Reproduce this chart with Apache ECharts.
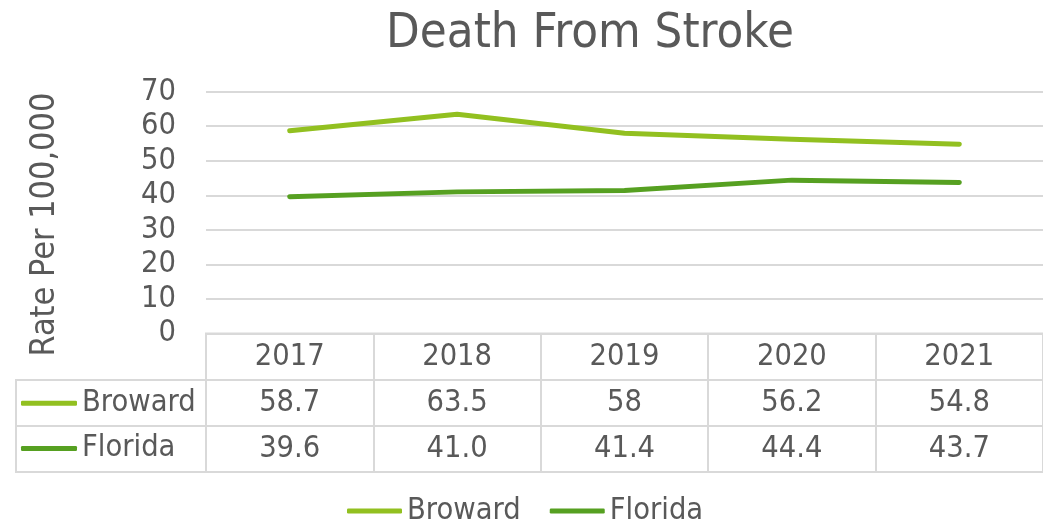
<!DOCTYPE html>
<html>
<head>
<meta charset="utf-8">
<script src="https://cdn.jsdelivr.net/npm/echarts@6/dist/echarts.min.js"></script>
<style>html,body{margin:0;padding:0;background:#fff}#c{width:1043px;height:524px}</style>
</head>
<body>
<div id="c"></div>
<script>
var years = ['2017', '2018', '2019', '2020', '2021'];
var broward = [58.7, 63.5, 58, 56.2, 54.8];
var florida = [39.6, 41.0, 41.4, 44.4, 43.7];
var seriesNames = ['Broward', 'Florida'];
var yMin = 0, yMax = 70, yStep = 10;

var TEXT = '#595959', GRID = '#d9d9d9';
var C_BROWARD = '#92c020', C_FLORIDA = '#56a021';

var ctx = document.createElement('canvas').getContext('2d');
function width(str, size, fam) { ctx.font = size + 'px ' + fam; return ctx.measureText(str).width; }
function hasFont(f) {
  var s = 'Rate Per 100,000 mmWWiil';
  return width(s, 40, 'monospace') !== width(s, 40, '"' + f + '", monospace');
}
var FAM = hasFont('DejaVu Sans Condensed') ? 'DejaVu Sans Condensed' : 'DejaVu Sans';
function fit(str, target) { return 100 * target / width(str, 100, '"' + FAM + '"'); }
var titleSize = fit('Death From Stroke', 408);
var body = (fit('Broward', 116) + fit('58.7', 60)) / 2;
var nameSize = fit('Rate Per 100,000', 264);
var LH = Math.round(body * 1.2);

var plotTop = 91.7, plotBottom = 333.5, headH = 46.5, rowH = 46;
var rowTop = plotBottom + headH;

var chart = echarts.init(document.getElementById('c'), null, { renderer: 'canvas' });
var titleW = width('Death From Stroke', titleSize, '"' + FAM + '"');

function cellLabel(fmt) {
  return { show: true, position: 'inside', color: TEXT, opacity: 1, fontFamily: FAM, fontSize: body, formatter: fmt };
}

var option = {
  animation: false,
  textStyle: { fontFamily: FAM },
  title: {
    text: 'Death From Stroke', left: 590 - titleW / 2, top: 56 - titleSize * 0.95, padding: 0,
    textStyle: { color: TEXT, fontSize: titleSize, fontWeight: 'normal', fontFamily: FAM }
  },
  legend: [
    { data: ['Broward'], left: 21, top: 403.3 - LH / 2, padding: 0, icon: 'roundRect', itemWidth: 56, itemHeight: 5,
      textStyle: { color: TEXT, fontSize: body, lineHeight: LH, fontFamily: FAM } },
    { data: ['Florida'], left: 21, top: 448.5 - LH / 2, padding: 0, icon: 'roundRect', itemWidth: 56, itemHeight: 5,
      textStyle: { color: TEXT, fontSize: body, lineHeight: LH, fontFamily: FAM } },
    { data: seriesNames, left: 347, top: 511 - LH / 2, padding: 0, itemGap: 29, icon: 'roundRect', itemWidth: 55, itemHeight: 5,
      textStyle: { color: TEXT, fontSize: body, lineHeight: LH, fontFamily: FAM } }
  ],
  grid: [
    { left: 206, right: -5, top: plotTop, height: plotBottom - plotTop },
    { left: 206, right: -5, top: plotBottom, height: headH, show: true, borderColor: GRID, borderWidth: 2 },
    { left: 206, right: -5, top: rowTop, height: rowH * 2, show: true, borderColor: GRID, borderWidth: 2 },
    { left: 16, width: 190, top: rowTop, height: rowH * 2, show: true, borderColor: GRID, borderWidth: 2 }
  ],
  xAxis: [
    { gridIndex: 0, type: 'category', data: years, boundaryGap: true, axisLine: { show: false }, axisTick: { show: false }, axisLabel: { show: false } },
    { gridIndex: 1, type: 'category', data: years, axisLine: { show: false }, axisTick: { show: false }, axisLabel: { show: false },
      splitLine: { show: true, interval: 0, lineStyle: { color: GRID, width: 2 } } },
    { gridIndex: 2, type: 'category', data: years, axisLine: { show: false }, axisTick: { show: false }, axisLabel: { show: false },
      splitLine: { show: true, interval: 0, lineStyle: { color: GRID, width: 2 } } },
    { gridIndex: 3, type: 'value', show: false, min: 0, max: 1 }
  ],
  yAxis: [
    { gridIndex: 0, type: 'value', min: yMin, max: yMax, interval: yStep,
      name: 'Rate Per 100,000', nameLocation: 'middle', nameGap: 144,
      nameTextStyle: { color: TEXT, fontSize: nameSize, fontFamily: FAM, padding: [0, 24, 0, 0] },
      axisLine: { show: false }, axisTick: { show: false },
      axisLabel: { color: TEXT, fontSize: body, fontFamily: FAM, margin: 30 },
      splitLine: { lineStyle: { color: GRID, width: 2 } } },
    { gridIndex: 1, type: 'value', min: 0, max: 1, show: false },
    { gridIndex: 2, type: 'category', data: seriesNames, inverse: true, axisLine: { show: false }, axisTick: { show: false }, axisLabel: { show: false },
      splitLine: { show: true, interval: 0, lineStyle: { color: GRID, width: 2 } } },
    { gridIndex: 3, type: 'category', data: seriesNames, inverse: true, axisLine: { show: false }, axisTick: { show: false }, axisLabel: { show: false },
      splitLine: { show: true, interval: 0, lineStyle: { color: GRID, width: 2 } } }
  ],
  series: [
    { name: 'Broward', type: 'line', data: broward, xAxisIndex: 0, yAxisIndex: 0, showSymbol: false, symbol: 'none',
      color: C_BROWARD, lineStyle: { width: 5, cap: 'round', join: 'round', color: C_BROWARD } },
    { name: 'Florida', type: 'line', data: florida, xAxisIndex: 0, yAxisIndex: 0, showSymbol: false, symbol: 'none',
      color: C_FLORIDA, lineStyle: { width: 5, cap: 'round', join: 'round', color: C_FLORIDA } },
    { name: 'tableHeader', type: 'scatter', xAxisIndex: 1, yAxisIndex: 1, symbolSize: 0, silent: true, itemStyle: { opacity: 1 },
      data: years.map(function (y) { return [y, 0.5]; }),
      label: cellLabel(function (p) { return p.value[0]; }) },
    { name: 'tableBroward', type: 'scatter', xAxisIndex: 2, yAxisIndex: 2, symbolSize: 0, silent: true, itemStyle: { opacity: 1 },
      data: years.map(function (y, i) { return [y, 'Broward', broward[i]]; }),
      label: cellLabel(function (p) { return String(p.value[2]); }) },
    { name: 'tableFlorida', type: 'scatter', xAxisIndex: 2, yAxisIndex: 2, symbolSize: 0, silent: true, itemStyle: { opacity: 1 },
      data: years.map(function (y, i) { return [y, 'Florida', florida[i]]; }),
      label: cellLabel(function (p) { return p.value[2].toFixed(1); }) }
  ]
};
chart.setOption(option);
</script>
</body>
</html>
